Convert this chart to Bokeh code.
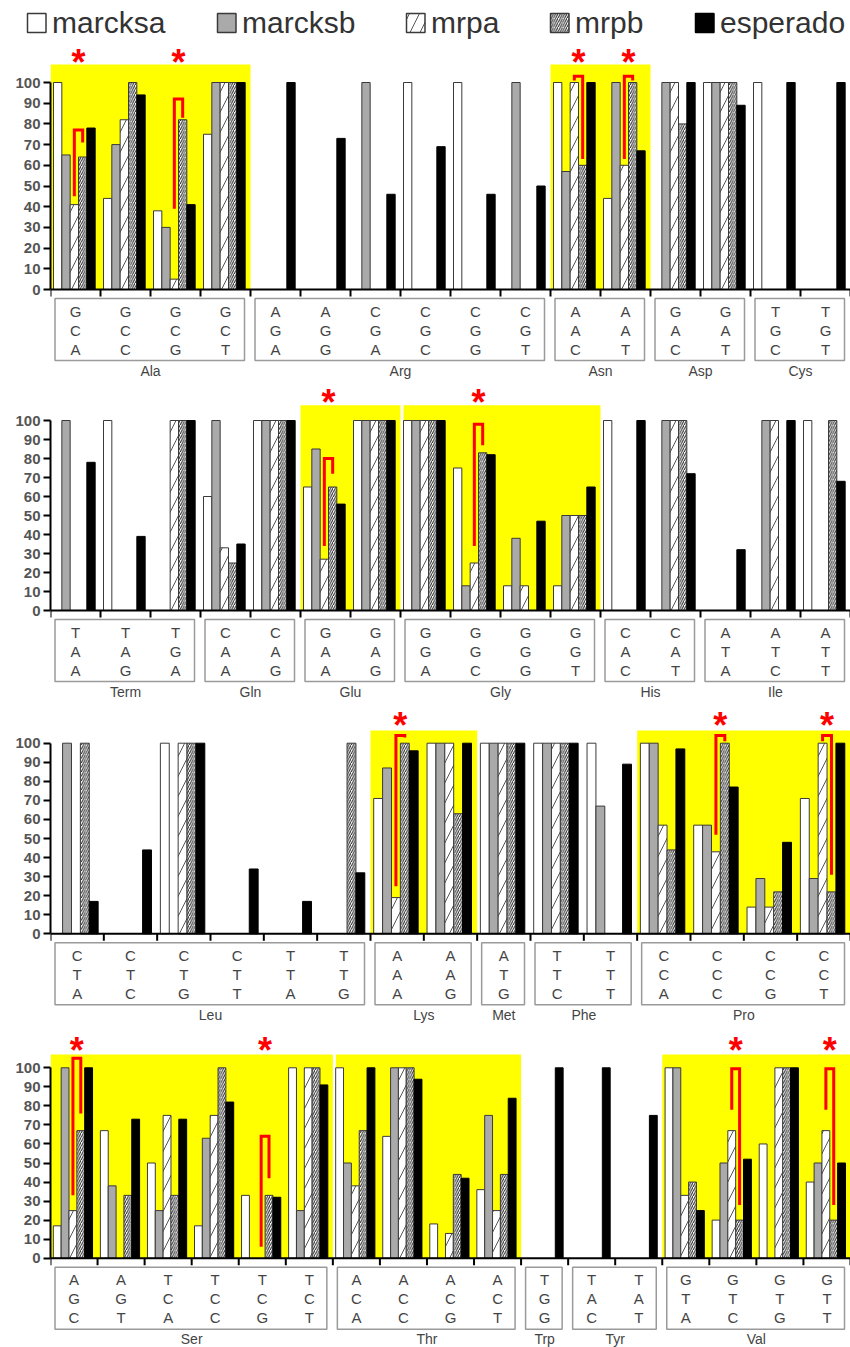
from bokeh.plotting import figure
from bokeh.models import Range1d, LinearAxis, FixedTicker
from bokeh.layouts import column
from bokeh.embed import file_html
from bokeh.resources import INLINE
from bokeh.core.properties import value

FONT = "Liberation Sans"
SERIES = ["marcksa", "marcksb", "mrpa", "mrpb", "esperado"]
Y_TICKS = [0, 10, 20, 30, 40, 50, 60, 70, 80, 90, 100]

# ---------------- Panel 1 ----------------
codons_1 = ["GCA", "GCC", "GCG", "GCT", "AGA", "AGG", "CGA", "CGC", "CGG", "CGT",
            "AAC", "AAT", "GAC", "GAT", "TGC", "TGT"]
groups_1 = [("Ala", 4), ("Arg", 6), ("Asn", 2), ("Asp", 2), ("Cys", 2)]
marcksa_1 = [100, 44, 38, 75, 0, 0, 0, 100, 100, 0, 100, 44, 0, 100, 100, 0]
marcksb_1 = [65, 70, 30, 100, 0, 0, 100, 0, 0, 100, 57, 100, 100, 100, 0, 0]
mrpa_1 = [41, 82, 5, 100, 0, 0, 0, 0, 0, 0, 100, 60, 100, 100, 0, 0]
mrpb_1 = [64, 100, 82, 100, 0, 0, 0, 0, 0, 0, 60, 100, 80, 100, 0, 0]
esperado_1 = [78, 94, 41, 100, 100, 73, 46, 69, 46, 50, 100, 67, 100, 89, 100, 100]
highlight_1 = ["Ala", "Asn"]
# (codon index, left leg low, bracket top, right leg low)
brackets_1 = [(0, 45, 77, 71), (2, 39, 92, 83), (10, 101, 103, 63), (11, 63, 103, 101)]
stars_1 = [0, 2, 10, 11]

# ---------------- Panel 2 ----------------
codons_2 = ["TAA", "TAG", "TGA", "CAA", "CAG", "GAA", "GAG", "GGA", "GGC", "GGG", "GGT",
            "CAC", "CAT", "ATA", "ATC", "ATT"]
groups_2 = [("Term", 3), ("Gln", 2), ("Glu", 2), ("Gly", 4), ("His", 2), ("Ile", 3)]
marcksa_2 = [0, 100, 0, 60, 100, 65, 100, 100, 75, 13, 13, 100, 0, 0, 0, 100]
marcksb_2 = [100, 0, 0, 100, 100, 85, 100, 100, 13, 38, 50, 0, 100, 0, 100, 0]
mrpa_2 = [0, 0, 100, 33, 100, 27, 100, 100, 25, 13, 50, 0, 100, 0, 100, 0]
mrpb_2 = [0, 0, 100, 25, 100, 65, 100, 100, 83, 0, 50, 0, 100, 0, 0, 100]
esperado_2 = [78, 39, 100, 35, 100, 56, 100, 100, 82, 47, 65, 100, 72, 32, 100, 68]
highlight_2 = ["Glu", "Gly"]
brackets_2 = [(5, 34, 80, 72), (8, 34, 98, 87)]
stars_2 = [5, 8]

# ---------------- Panel 3 ----------------
codons_3 = ["CTA", "CTC", "CTG", "CTT", "TTA", "TTG", "AAA", "AAG", "ATG", "TTC", "TTT",
            "CCA", "CCC", "CCG", "CCT"]
groups_3 = [("Leu", 6), ("Lys", 2), ("Met", 1), ("Phe", 2), ("Pro", 4)]
marcksa_3 = [0, 0, 100, 0, 0, 0, 71, 100, 100, 100, 100, 100, 57, 14, 71]
marcksb_3 = [100, 0, 0, 0, 0, 0, 87, 100, 100, 100, 67, 100, 57, 29, 29]
mrpa_3 = [0, 0, 100, 0, 0, 0, 19, 100, 100, 100, 0, 57, 43, 14, 100]
mrpb_3 = [100, 0, 100, 0, 0, 100, 100, 63, 100, 100, 0, 44, 100, 22, 22]
esperado_3 = [17, 44, 100, 34, 17, 32, 96, 100, 100, 100, 89, 97, 77, 48, 100]
highlight_3 = ["Lys", "Pro"]
brackets_3 = [(6, 25, 104, 103), (12, 52, 104, 101), (14, 101, 104, 31)]
stars_3 = [6, 12, 14]

# ---------------- Panel 4 ----------------
codons_4 = ["AGC", "AGT", "TCA", "TCC", "TCG", "TCT", "ACA", "ACC", "ACG", "ACT", "TGG",
            "TAC", "TAT", "GTA", "GTC", "GTG", "GTT"]
groups_4 = [("Ser", 6), ("Thr", 4), ("Trp", 1), ("Tyr", 2), ("Val", 4)]
marcksa_4 = [17, 67, 50, 17, 33, 100, 100, 64, 18, 36, 0, 0, 0, 100, 20, 60, 40]
marcksb_4 = [100, 38, 25, 63, 0, 25, 50, 100, 0, 75, 0, 0, 0, 100, 50, 0, 50]
mrpa_4 = [25, 0, 75, 75, 0, 100, 38, 100, 13, 25, 0, 0, 0, 33, 67, 100, 67]
mrpb_4 = [67, 33, 33, 100, 33, 100, 67, 100, 44, 44, 0, 0, 0, 40, 20, 100, 20]
esperado_4 = [100, 73, 73, 82, 32, 91, 100, 94, 42, 84, 100, 100, 75, 25, 52, 100, 50]
highlight_4 = ["Ser", "Thr", "Val"]
brackets_4 = [(0, 33, 105, 76), (4, 6, 64, 42), (14, 78, 99.5, 28), (16, 78, 99.5, 28)]
stars_4 = [0, 4, 14, 16]

STYLE = {
    "marcksa": dict(fill_color="white", line_color="#3a3a3a"),
    "marcksb": dict(fill_color="#aaaaaa", line_color="#3a3a3a"),
    "mrpa": dict(fill_color="white", line_color="#3a3a3a", hatch_pattern="/",
                 hatch_scale=20, hatch_weight=1, hatch_color="#555555"),
    "mrpb": dict(fill_color="white", line_color="#3a3a3a", hatch_pattern="/",
                 hatch_scale=4.5, hatch_weight=1, hatch_color="#222222"),
    "esperado": dict(fill_color="black", line_color="black"),
}


def make_panel(codons, groups, values, highlight, brackets, stars,
               fig_top, fig_h, zero_px, hundred_px, yellow_top):
    n = len(codons)
    slot_px = 800.0 / n
    ppu = (zero_px - hundred_px) / 100.0
    y_top = (zero_px - fig_top) / ppu
    y_bot = -(fig_top + fig_h - zero_px) / ppu
    p = figure(width=850, height=fig_h, x_range=Range1d(0, n), y_range=Range1d(y_bot, y_top),
               x_axis_type=None, y_axis_type=None, toolbar_location=None,
               output_backend="svg", min_border_left=50, min_border_right=0,
               min_border_top=0, min_border_bottom=0, outline_line_color=None,
               background_fill_color="white", border_fill_color="white")
    p.grid.visible = False

    # yellow highlights
    starts = []
    s = 0
    for name, cnt in groups:
        starts.append((name, s, s + cnt))
        s += cnt
    yl, yr = [], []
    prev_h = False
    for name, a, b in starts:
        if name in highlight:
            yl.append(a + (3.0 / slot_px if prev_h else 0))
            yr.append(b)
            prev_h = True
        else:
            prev_h = False
    p.quad(left=yl, right=yr, bottom=0, top=yellow_top, fill_color="#ffff00", line_color=None)

    # bars
    for i, ser in enumerate(SERIES):
        xs, tops = [], []
        for k, v in enumerate(values[ser]):
            if v > 0:
                xs.append(k + 0.06 + (i + 0.5) / 6.0)
                tops.append(v)
        p.vbar(x=xs, top=tops, bottom=0, width=1 / 6.0, line_width=1, **STYLE[ser])

    # x axis line and ticks
    p.segment(x0=[0], y0=[0], x1=[n], y1=[0], line_color="black", line_width=2)
    p.segment(x0=list(range(n + 1)), y0=[0] * (n + 1), x1=list(range(n + 1)),
              y1=[-7 / ppu] * (n + 1), line_color="black", line_width=2)

    # codon table
    bl, br, lx, lt = [], [], [], []
    for name, a, b in starts:
        bl.append(a + 4.5 / slot_px)
        br.append(b - 6.0 / slot_px)
        lx.append((a + b) / 2.0)
        lt.append(name)
    p.quad(left=bl, right=br, top=-9 / ppu, bottom=-71 / ppu, fill_color=None,
           line_color="#9a9a9a", line_width=1.5)
    tx, ty, tt = [], [], []
    for k, c in enumerate(codons):
        for r, off in enumerate([21.5, 40.5, 59.5]):
            tx.append(k + 0.5)
            ty.append(-off / ppu)
            tt.append(c[r])
    p.text(x=tx, y=ty, text=tt, text_font=value(FONT), text_font_size=value("15px"),
           text_color="#444444", text_align="center", text_baseline="middle")
    p.text(x=lx, y=[-81 / ppu] * len(lx), text=lt, text_font=value(FONT),
           text_font_size=value("14px"), text_color="#444444", text_align="center",
           text_baseline="middle")

    # red brackets
    bxs, bys = [], []
    for k, lo_l, top, lo_r in brackets:
        xl = k + 0.06 + 2.5 / 6.0
        xr = k + 0.06 + 3.5 / 6.0
        bxs.append([xl, xl, xr, xr])
        bys.append([lo_l, top, top, lo_r])
    p.multi_line(xs=bxs, ys=bys, line_color="#ff0000", line_width=3, line_join="miter")

    # asterisks
    p.text(x=[k + 0.06 + 3.0 / 6.0 for k in stars], y=[113] * len(stars),
           text=["*"] * len(stars), text_font=value(FONT), text_font_size=value("36px"),
           text_font_style="bold", text_color="#ff0000", text_align="center",
           text_baseline="middle", y_offset=7)

    ax = LinearAxis(ticker=FixedTicker(ticks=Y_TICKS), bounds=(0, 100))
    ax.axis_line_color = "black"
    ax.axis_line_width = 2
    ax.major_tick_line_color = "black"
    ax.major_tick_line_width = 2
    ax.major_tick_out = 7
    ax.major_tick_in = 0
    ax.minor_tick_line_color = None
    ax.major_label_standoff = 3
    ax.major_label_text_font = FONT
    ax.major_label_text_font_size = "15px"
    ax.major_label_text_font_style = "bold"
    ax.major_label_text_color = "#555555"
    p.add_layout(ax, "left")
    return p


def vals(a, b, c, d, e):
    return dict(zip(SERIES, [a, b, c, d, e]))


p1 = make_panel(codons_1, groups_1, vals(marcksa_1, marcksb_1, mrpa_1, mrpb_1, esperado_1),
                highlight_1, brackets_1, stars_1, 40, 340, 289, 82, 108.7)
p2 = make_panel(codons_2, groups_2, vals(marcksa_2, marcksb_2, mrpa_2, mrpb_2, esperado_2),
                highlight_2, brackets_2, stars_2, 380, 320, 610, 420, 108)
p3 = make_panel(codons_3, groups_3, vals(marcksa_3, marcksb_3, mrpa_3, mrpb_3, esperado_3),
                highlight_3, brackets_3, stars_3, 700, 325, 933.3, 742.7, 106.7)
p4 = make_panel(codons_4, groups_4, vals(marcksa_4, marcksb_4, mrpa_4, mrpb_4, esperado_4),
                highlight_4, brackets_4, stars_4, 1025, 322, 1257.7, 1067.3, 107)

# legend strip (its own figure, pixel coordinates)
leg = figure(width=850, height=40, x_range=Range1d(0, 850), y_range=Range1d(40, 0),
             x_axis_type=None, y_axis_type=None, toolbar_location=None, output_backend="svg",
             min_border_left=0, min_border_right=0, min_border_top=0, min_border_bottom=0,
             outline_line_color=None)
leg.grid.visible = False
box_left = [27, 217, 406, 550, 695]
for ser, bx in zip(SERIES, box_left):
    leg.quad(left=[bx], right=[bx + 18.5], top=[13], bottom=[32], line_width=1.5, **STYLE[ser])
leg.text(x=[bx + 24.5 for bx in box_left], y=[21.6] * 5, text=SERIES, text_font=value(FONT),
         text_font_size=value("30px"), text_color="#333333", text_align="left",
         text_baseline="middle")

layout = column(leg, column(p1, p2, p3, p4, spacing=0), spacing=0)
open("out.html", "w").write(file_html(layout, INLINE))
